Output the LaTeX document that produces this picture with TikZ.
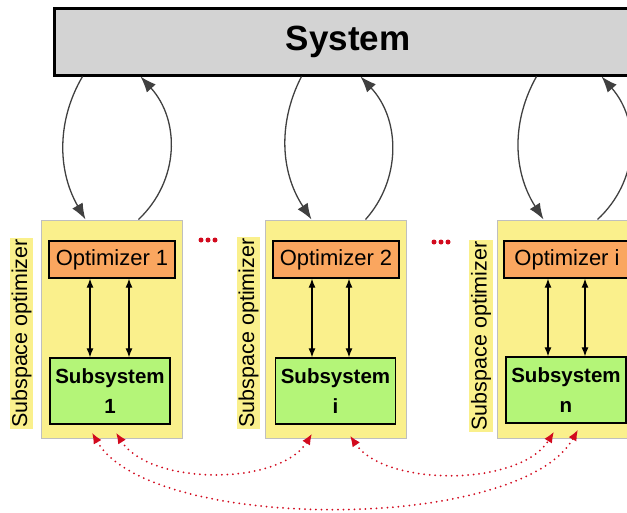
\documentclass[tikz,border=0pt]{standalone}
\usepackage{fontspec}
\setmainfont{Liberation Sans}
\usetikzlibrary{arrows.meta,calc}
\definecolor{sysgray}{RGB}{211,211,211}
\definecolor{panelyel}{RGB}{250,240,140}
\definecolor{optorange}{RGB}{250,166,95}
\definecolor{subgreen}{RGB}{180,245,120}
\definecolor{curvegray}{RGB}{64,64,64}
\definecolor{dotred}{RGB}{210,10,30}
\begin{document}
\begin{tikzpicture}[x=1pt,y=-1pt,
 sysbox/.style={draw=black,line width=3pt,fill=sysgray,minimum width=588pt,minimum height=67pt,inner sep=0pt,font=\bfseries\fontsize{35}{40}\selectfont},
 panel/.style={draw=black!25,line width=1pt,fill=panelyel,minimum width=141pt,minimum height=218pt,inner sep=0pt},
 optbox/.style={draw=black,line width=1.3pt,fill=optorange,minimum width=126pt,minimum height=37pt,inner sep=0pt,font=\fontsize{22}{25}\selectfont},
 subbox/.style={draw=black,line width=1.3pt,fill=subgreen,minimum width=120pt,minimum height=66pt,inner sep=0pt,align=center,font=\bfseries\fontsize{20.5}{30}\selectfont},
 sublabel/.style={fill=panelyel,rotate=90,inner sep=1.5pt,font=\fontsize{21.5}{25}\selectfont},
 feed/.style={curvegray,line width=1.3pt,-{Latex[length=16pt,width=12pt]}},
 link/.style={black,line width=1.2pt,{Latex[length=9pt,width=7pt]}-{Latex[length=9pt,width=7pt]}},
 share/.style={dotred,line width=2pt,dash pattern=on 0pt off 5.5pt,line cap=round,{Latex[length=11pt,width=9pt]}-{Latex[length=11pt,width=9pt]}},
 reddot/.style={fill=dotred}
]
\useasboundingbox (0,0) rectangle (627,512);

% system
\node[sysbox] (sys) at (348,41.5) {System};

% panels
\node[panel] (p1) at (111.5,329) {};
\node[panel] (p2) at (335.5,329) {};
\node[panel] (p3) at (567.5,329) {};

% side labels
\node[sublabel] (l1) at (21.5,333.5) {Subspace optimizer};
\node[sublabel] (l2) at (248.5,333) {Subspace optimizer};
\node[sublabel] (l3) at (481,336) {Subspace optimizer};

% optimizers
\node[optbox] (o1) at (112,259.5) {Optimizer 1};
\node[optbox] (o2) at (336,259.5) {Optimizer 2};
\node[optbox] (o3) at (567,259.5) {Optimizer i};

% subsystems
\node[subbox] (s1) at (110,391) {Subsystem\\1};
\node[subbox] (s2) at (335.5,391) {Subsystem\\i};
\node[subbox] (s3) at (566,390) {Subsystem\\n};

% optimizer <-> subsystem links
\draw[link] ($(o1.south)+(-22,0)$) -- ($(s1.north)+(-20,0)$);
\draw[link] ($(o1.south)+(17,0)$) -- ($(s1.north)+(19,0)$);
\draw[link] ($(o2.south)+(-24,0)$) -- ($(s2.north)+(-23.5,0)$);
\draw[link] ($(o2.south)+(13,0)$) -- ($(s2.north)+(13.5,0)$);
\draw[link] ($(o3.south)+(-19,0)$) -- ($(s3.north)+(-18,0)$);
\draw[link] ($(o3.south)+(18,0)$) -- ($(s3.north)+(19,0)$);

% system <-> panels
\draw[feed] ($(sys.south west)+(30,0)$) .. controls (57,120) and (57,170) .. ($(p1.north west)+(45,0)$);
\draw[feed] ($(p1.north west)+(98,0)$) .. controls (180,180) and (180,120) .. ($(sys.south west)+(88,0)$);
\draw[feed] ($(sys.south west)+(249,0)$) .. controls (279,120) and (279,170) .. ($(p2.north west)+(47,0)$);
\draw[feed] ($(p2.north west)+(101,0)$) .. controls (401,180) and (401,120) .. ($(sys.south west)+(308,0)$);
\draw[feed] ($(sys.south west)+(484,0)$) .. controls (512,120) and (512,170) .. ($(p3.north west)+(47,0)$);
\draw[feed] ($(p3.north west)+(101,0)$) .. controls (640,180) and (640,120) .. ($(sys.south west)+(549,0)$);

% ellipses
\fill[reddot] (201,240) circle (2.5) (208,240) circle (2.5) (215,240) circle (2.5);
\fill[reddot] (434,242) circle (2.5) (441,242) circle (2.5) (448,242) circle (2.5);

% shared links between subsystems
\draw[share] ($(s1.south)+(-18,8)$) .. controls (150,533) and (520,533) .. ($(s3.south)+(12,6)$);
\draw[share] ($(s1.south)+(6,8)$) .. controls (150,486) and (280,486) .. ($(s2.south)+(-23.5,9)$);
\draw[share] ($(s2.south)+(14.5,11)$) .. controls (385,487) and (520,487) .. ($(s3.south)+(-12,8)$);
\end{tikzpicture}
\end{document}
